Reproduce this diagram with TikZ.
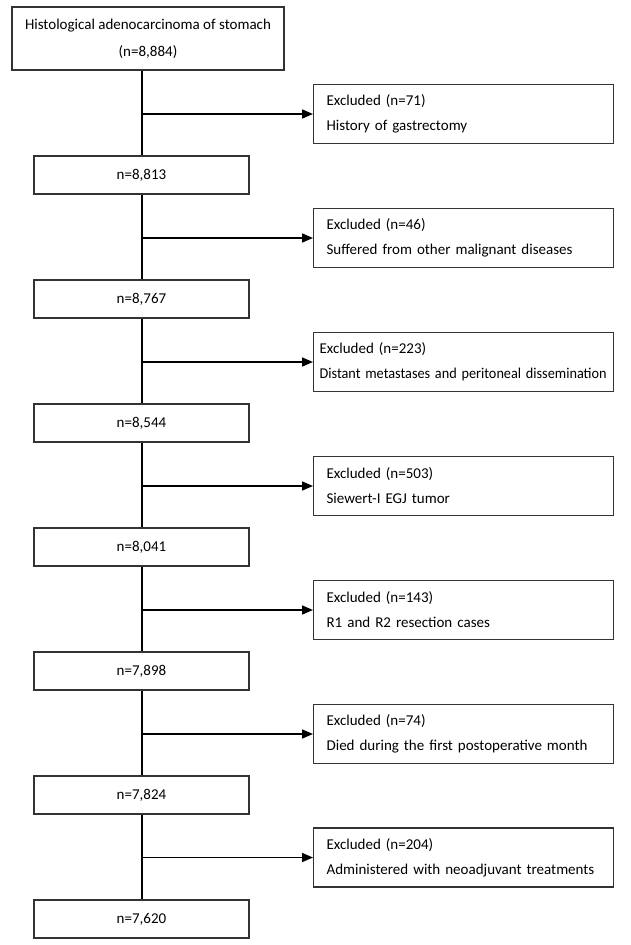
\documentclass[tikz,border=0pt]{standalone}
\usepackage{fontspec}
\setmainfont{Carlito}
\usetikzlibrary{arrows.meta}

\tikzset{
  stagebox/.style={draw=black!80, line width=1.2pt, minimum width=215pt,
    minimum height=38pt, inner sep=0pt, font=\fontsize{15}{18}\selectfont},
  exclbox/.style={draw=black!80, line width=1.2pt, anchor=west,
    text width=274pt, inner xsep=13pt, inner ysep=0pt, minimum height=59pt,
    align=left, font=\fontsize{15}{25}\selectfont},
  trunk/.style={line width=2pt},
  branch/.style={line width=1.6pt, -{Triangle[length=11pt,width=9pt]}}
}

\begin{document}
\begin{tikzpicture}[x=1pt, y=-1pt]
  \useasboundingbox (0,0) rectangle (630,945);

  % main flow
  \node[draw=black!80, line width=1.2pt, minimum width=272pt, minimum height=63pt,
    inner sep=0pt, align=center, font=\fontsize{15}{27}\selectfont]
    (start) at (148,38.5) {Histological adenocarcinoma of stomach\\(n=8,884)};
  \node[stagebox] (s1) at (141.5,175) {n=8,813};
  \node[stagebox] (s2) at (141.5,299) {n=8,767};
  \node[stagebox] (s3) at (141.5,423) {n=8,544};
  \node[stagebox] (s4) at (141.5,547) {n=8,041};
  \node[stagebox] (s5) at (141.5,671) {n=7,898};
  \node[stagebox] (s6) at (141.5,795) {n=7,824};
  \node[stagebox] (s7) at (141.5,919) {n=7,620};

  % exclusions
  \node[exclbox] (x1) at (313,114) {Excluded (n=71)\\History of gastrectomy};
  \node[exclbox] (x2) at (313,238) {Excluded (n=46)\\Suffered from other malignant diseases};
  \node[exclbox, inner xsep=6pt, text width=288pt] (x3) at (313,362)
    {Excluded (n=223)\\\scalebox{0.95}[1]{Distant metastases and peritoneal dissemination}};
  \node[exclbox] (x4) at (313,486) {Excluded (n=503)\\Siewert-I EGJ tumor};
  \node[exclbox] (x5) at (313,610) {Excluded (n=143)\\R1 and R2 resection cases};
  \node[exclbox] (x6) at (313,734) {Excluded (n=74)\\Died during the first postoperative month};
  \node[exclbox] (x7) at (313,857.5) {Excluded (n=204)\\Administered with neoadjuvant treatments};

  \draw[trunk] (s1.north |- start.south) -- (s1.north);
  \draw[trunk] (s1) -- (s2);
  \draw[trunk] (s2) -- (s3);
  \draw[trunk] (s3) -- (s4);
  \draw[trunk] (s4) -- (s5);
  \draw[trunk] (s5) -- (s6);
  \draw[trunk] (s6) -- (s7);

  \draw[branch] (x1.west -| s1.north) -- (x1.west);
  \draw[branch] (x2.west -| s1.north) -- (x2.west);
  \draw[branch] (x3.west -| s1.north) -- (x3.west);
  \draw[branch] (x4.west -| s1.north) -- (x4.west);
  \draw[branch] (x5.west -| s1.north) -- (x5.west);
  \draw[branch] (x6.west -| s1.north) -- (x6.west);
  \draw[branch] (x7.west -| s1.north) -- (x7.west);
\end{tikzpicture}
\end{document}
